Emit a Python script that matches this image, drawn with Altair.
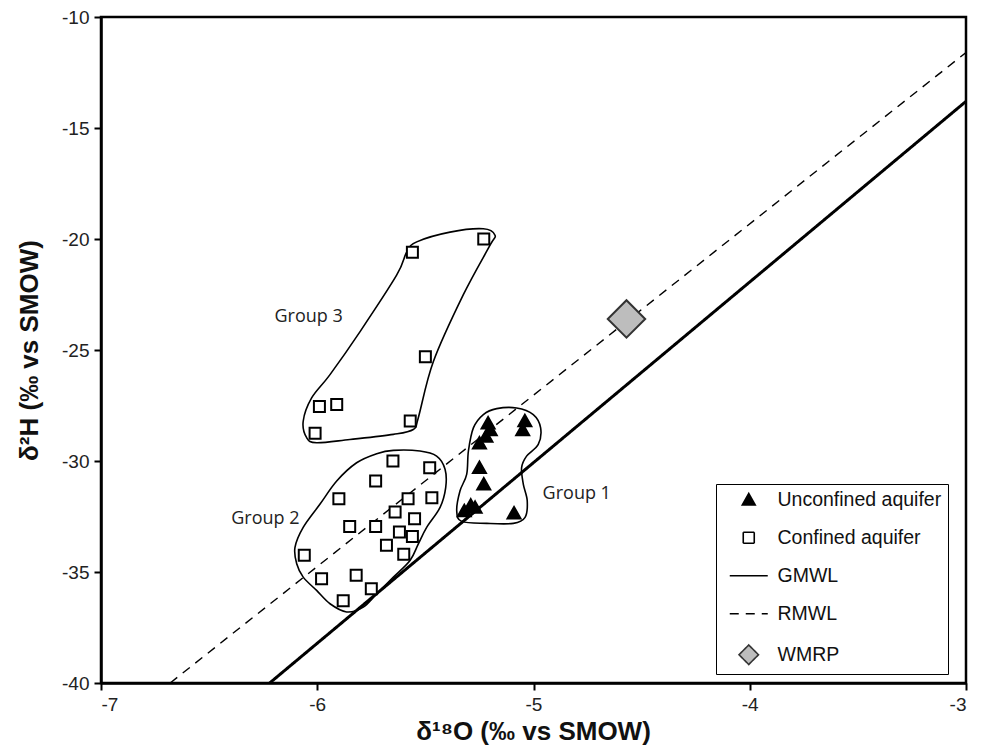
import altair as alt
import pandas as pd

# ---------------- data ----------------
series_names = ["Unconfined aquifer", "Confined aquifer", "GMWL", "RMWL", "WMRP"]

# Unconfined aquifer (filled triangles)
unconf_x = [-5.21, -5.20, -5.22, -5.25, -5.04, -5.05, -5.25, -5.23, -5.29, -5.32, -5.27, -5.09]
unconf_y = [-28.3, -28.6, -28.9, -29.2, -28.2, -28.6, -30.3, -31.05, -32.0, -32.25, -32.1, -32.35]

# Confined aquifer (open squares): group 3 then group 2
conf_x = [-5.56, -5.23, -5.50, -5.99, -5.91, -5.57, -6.01,
          -5.65, -5.48, -5.73, -5.90, -5.58, -5.47, -5.64, -5.55, -5.85, -5.73,
          -5.62, -5.56, -5.68, -5.60, -6.06, -5.98, -5.82, -5.75, -5.88]
conf_y = [-20.6, -20.0, -25.3, -27.55, -27.45, -28.2, -28.75,
          -30.0, -30.3, -30.9, -31.7, -31.7, -31.65, -32.3, -32.6, -32.95, -32.95,
          -33.2, -33.4, -33.8, -34.2, -34.25, -35.3, -35.15, -35.75, -36.3]

# WMRP
wmrp_x = [-4.57]
wmrp_y = [-23.6]

# Meteoric water lines (end points)
gmwl_x = [-6.22, -3.0]
gmwl_y = [-40.0, -13.8]
rmwl_x = [-6.68, -3.0]
rmwl_y = [-40.0, -11.6]

# Hand-drawn group outlines
g3_x = [-5.178, -5.232, -5.386, -5.540, -5.586, -5.633, -5.802, -5.941, -6.026, -6.065,
        -6.049, -6.003, -5.849, -5.648, -5.556, -5.533, -5.463, -5.325, -5.201]
g3_y = [-19.83, -19.54, -19.69, -20.13, -20.58, -21.63, -24.17, -26.11, -27.16, -28.21,
        -28.95, -29.18, -29.03, -28.80, -28.58, -28.06, -25.52, -22.52, -20.28]
g2_x = [-5.648, -5.525, -5.448, -5.409, -5.406, -5.432, -5.494, -5.533, -5.571, -5.648,
        -5.725, -5.787, -5.864, -5.941, -6.003, -6.065, -6.095, -6.103, -6.065, -5.987,
        -5.910, -5.818, -5.725]
g2_y = [-29.52, -29.55, -29.78, -30.37, -31.20, -32.09, -32.99, -33.74, -34.48, -35.23,
        -35.98, -36.58, -36.80, -36.43, -35.83, -35.23, -34.63, -33.89, -32.99, -31.94,
        -30.90, -30.08, -29.67]
g1_x = [-5.170, -5.078, -5.001, -4.967, -4.978, -5.032, -5.055, -5.047, -5.029, -5.039,
        -5.093, -5.216, -5.332, -5.355, -5.340, -5.309, -5.301, -5.278, -5.232]
g1_y = [-27.64, -27.61, -27.91, -28.51, -29.25, -29.78, -30.30, -31.05, -31.79, -32.54,
        -32.81, -32.81, -32.72, -32.24, -31.35, -30.60, -29.55, -28.51, -27.91]

# Group labels
label_text = ["Group 3", "Group 2", "Group 1"]
label_x = [-6.04, -6.24, -4.80]
label_y = [-23.5, -32.6, -31.5]

x_ticks = [-7, -6, -5, -4, -3]
y_ticks = [-40, -35, -30, -25, -20, -15, -10]

# ---------------- tables ----------------
pts = pd.DataFrame({
    "x": unconf_x + conf_x,
    "y": unconf_y + conf_y,
    "series": ["Unconfined aquifer"] * len(unconf_x) + ["Confined aquifer"] * len(conf_x),
})
lines = pd.DataFrame({
    "x": gmwl_x + rmwl_x,
    "y": gmwl_y + rmwl_y,
    "series": ["GMWL"] * len(gmwl_x) + ["RMWL"] * len(rmwl_x),
})
wmrp = pd.DataFrame({"x": wmrp_x, "y": wmrp_y})
hull_rows = []
for name, xs, ys in [("g3", g3_x, g3_y), ("g2", g2_x, g2_y), ("g1", g1_x, g1_y)]:
    for i, (a, b) in enumerate(zip(xs, ys)):
        hull_rows.append({"group": name, "idx": i, "x": a, "y": b})
hulls = pd.DataFrame(hull_rows)
labels = pd.DataFrame({"x": label_x, "y": label_y, "text": label_text})

# ---------------- styling ----------------
FONT = "Liberation Sans, Arial, sans-serif"

tri_path = "M0,-1.25L1.3,1.05L-1.3,1.05Z"
sq_path = "M-1.1,-1.1H1.1V1.1H-1.1Z"
line_path = "M-3.8,0H3.8"
dia_path = "M0,-1.95L1.95,0L0,1.95L-1.95,0Z"

shape_scale = alt.Scale(domain=series_names, range=[tri_path, sq_path, line_path, line_path, dia_path])
fill_scale = alt.Scale(domain=series_names, range=["black", "white", "transparent", "transparent", "#bdbdbd"])
stroke_scale = alt.Scale(domain=series_names, range=["black", "black", "black", "black", "#333333"])
dash_scale = alt.Scale(domain=series_names, range=[[1, 0], [1, 0], [1, 0], [9, 7], [1, 0]])

legend = alt.Legend(
    title=None, orient="none", legendX=615, legendY=467,
    fillColor="white", strokeColor="black", padding=6, cornerRadius=0,
    symbolSize=100, symbolStrokeWidth=1.6, symbolStrokeColor="black",
    symbolOffset=17, labelOffset=19, rowPadding=17, labelLimit=400,
    labelFont=FONT, labelFontSize=19.5, labelColor="#111111",
)

x_axis = alt.Axis(values=x_ticks, labelExpr="'' + datum.value", title="δ¹⁸O (‰ vs SMOW)",
                  titleX=432, titleY=48, titleBaseline="middle", titleAlign="center")
y_axis = alt.Axis(values=y_ticks, labelExpr="'' + datum.value", title="δ²H (‰ vs SMOW)",
                  titleX=-72, titleY=333, titleAngle=-90, titleBaseline="middle", titleAlign="center")

X = alt.X("x:Q", scale=alt.Scale(domain=[-7, -3], nice=False, zero=False), axis=x_axis)
Y = alt.Y("y:Q", scale=alt.Scale(domain=[-40, -10], nice=False, zero=False), axis=y_axis)

line_layer = alt.Chart(lines).mark_line(color="black", clip=True).encode(
    x=X, y=Y,
    strokeDash=alt.StrokeDash("series:N", scale=dash_scale, legend=legend),
    strokeWidth=alt.condition(alt.datum.series == "GMWL", alt.value(3), alt.value(1.4)),
)

hull_layer = alt.Chart(hulls).mark_line(color="black", strokeWidth=1.6, interpolate="cardinal-closed").encode(
    x="x:Q", y="y:Q", detail="group:N", order="idx:Q",
)

pt_layer = alt.Chart(pts).mark_point(filled=True, strokeWidth=2, size=100, opacity=1).encode(
    x="x:Q", y="y:Q",
    shape=alt.Shape("series:N", scale=shape_scale, legend=legend),
    fill=alt.Fill("series:N", scale=fill_scale, legend=legend),
    stroke=alt.Stroke("series:N", scale=stroke_scale, legend=legend),
)

wmrp_layer = alt.Chart(wmrp).mark_point(shape="diamond", filled=True, fill="#bdbdbd", stroke="#333333",
                                         strokeWidth=2, size=1400, opacity=1).encode(x="x:Q", y="y:Q")

text_layer = alt.Chart(labels).mark_text(font="Open Sans", fontSize=18, color="#222222").encode(
    x="x:Q", y="y:Q", text="text:N",
)

chart = alt.layer(line_layer, hull_layer, pt_layer, wmrp_layer, text_layer).properties(
    width=865, height=666,
    autosize=alt.AutoSizeParams(type="none"),
    padding={"left": 93, "top": 9, "right": 15, "bottom": 63},
).configure_view(
    stroke="black", strokeWidth=2.5,
).configure_axis(
    grid=False, domainColor="black", domainWidth=2.5, tickColor="black", tickWidth=2, tickSize=7,
    labelFont=FONT, labelFontSize=19, labelColor="#222222", labelPadding=5,
    titleFont=FONT, titleFontSize=26, titleFontWeight="bold", titleColor="#111111",
)

chart.save("out.html", embed_options={"renderer": "svg", "actions": False})
